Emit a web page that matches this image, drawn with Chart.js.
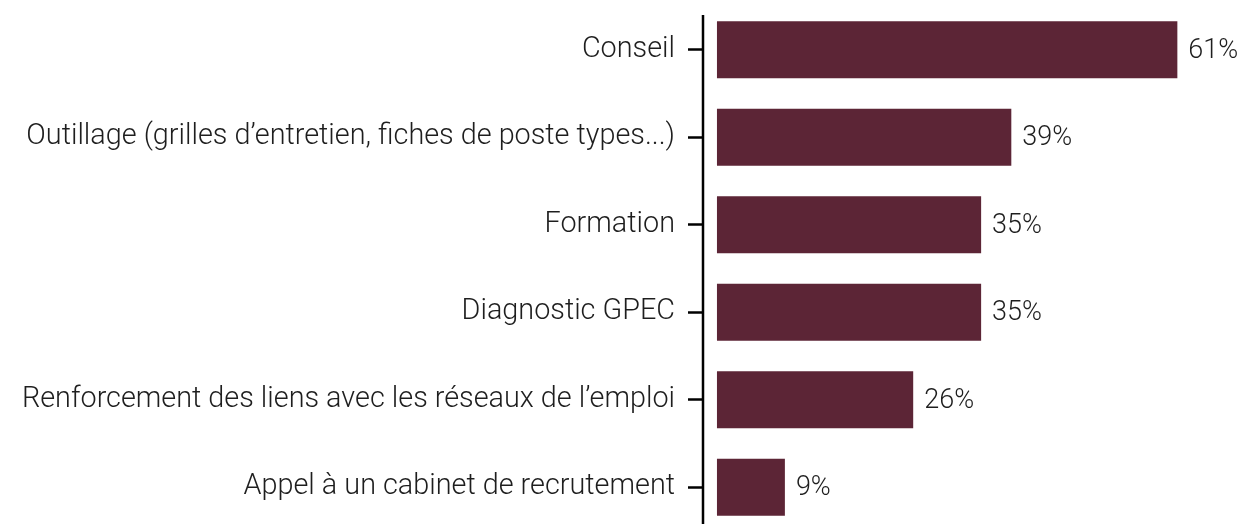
<!DOCTYPE html>
<html>
<head>
<meta charset="utf-8">
<script src="https://cdn.jsdelivr.net/npm/chart.js@4"></script>
<style>
  html, body { margin: 0; padding: 0; background: #fff; overflow: hidden; }
  #wrap { width: 1240px; height: 531px; position: relative; }
</style>
</head>
<body>
<div id="wrap"><canvas id="leviersChart"></canvas></div>
<script>
let categories = [
  'Conseil',
  'Outillage (grilles d\u2019entretien, fiches de poste types...)',
  'Formation',
  'Diagnostic GPEC',
  'Renforcement des liens avec les réseaux de l\u2019emploi',
  'Appel à un cabinet de recrutement',
];
let values = [61, 39, 35, 35, 26, 9];
let valueLabels = ['61%', '39%', '35%', '35%', '26%', '9%'];

let textColor = '#1e1e1e';
let barColor = '#5C2536';
let labelFont = { family: 'Roboto', size: 28.8, weight: '300' };
let valueFont = { family: 'Roboto', size: 27, weight: '300' };

// value labels drawn just after each bar
let valueLabelPlugin = {
  id: 'valueLabels',
  afterDatasetsDraw: (chart) => {
    let ctx = chart.ctx;
    let meta = chart.getDatasetMeta(0);
    ctx.save();
    ctx.font = valueFont.weight + ' ' + valueFont.size + 'px ' + valueFont.family;
    ctx.fillStyle = textColor;
    ctx.textAlign = 'left';
    ctx.textBaseline = 'middle';
    meta.data.forEach((bar, i) => {
      ctx.fillText(valueLabels[i], bar.x + 11, bar.y + 1);
    });
    ctx.restore();
  },
};

// vertical axis line, starting a little below the top of the plot
let axisLinePlugin = {
  id: 'axisLine',
  afterDatasetsDraw: (chart) => {
    let ctx = chart.ctx;
    let area = chart.chartArea;
    ctx.save();
    ctx.strokeStyle = '#000';
    ctx.lineWidth = 2.5;
    ctx.beginPath();
    ctx.moveTo(area.left, area.top + 9);
    ctx.lineTo(area.left, area.bottom);
    ctx.stroke();
    ctx.restore();
  },
};

let ctx = document.getElementById('leviersChart').getContext('2d');

new Chart(ctx, {
  type: 'bar',
  data: {
    labels: categories,
    datasets: [
      {
        data: values,
        backgroundColor: barColor,
        borderWidth: 0,
        barPercentage: 0.65,
        categoryPercentage: 1,
      },
    ],
  },
  options: {
    indexAxis: 'y',
    responsive: true,
    maintainAspectRatio: false,
    animation: false,
    layout: { padding: { top: 6, right: 0, bottom: 0, left: 0 } },
    plugins: {
      legend: { display: false },
      tooltip: { enabled: false },
      title: { display: false },
    },
    scales: {
      x: {
        display: false,
        min: -1.85,
        max: 69.3,
      },
      y: {
        afterFit: (scale) => {
          scale.width = 703;
          scale.paddingTop = 0;
          scale.paddingBottom = 0;
        },
        border: { display: false },
        grid: {
          display: true,
          offset: false,
          drawOnChartArea: false,
          drawTicks: true,
          tickLength: 15,
          tickWidth: 2.5,
          tickColor: '#000',
        },
        ticks: {
          color: textColor,
          font: labelFont,
          padding: 13,
        },
      },
    },
  },
  plugins: [valueLabelPlugin, axisLinePlugin],
});
</script>
</body>
</html>
